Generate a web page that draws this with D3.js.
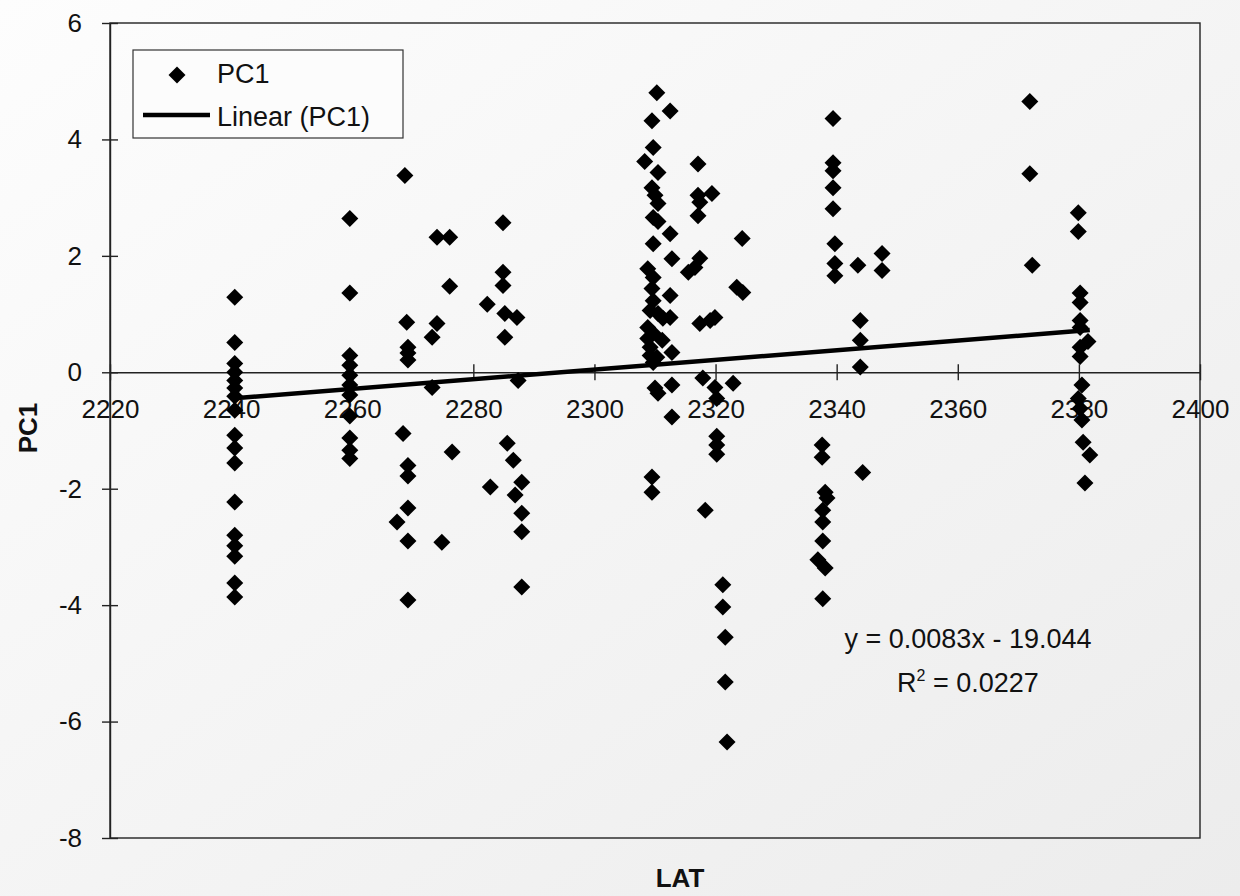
<!DOCTYPE html>
<html>
<head>
<meta charset="utf-8">
<title>PC1 vs LAT</title>
<script src="https://cdnjs.cloudflare.com/ajax/libs/d3/7.8.5/d3.min.js"></script>
<style>
    html, body { margin: 0; padding: 0; background: #f6f6f6; }
    svg { display: block; font-family: Arial, "Liberation Sans", sans-serif; }
</style>
</head>
<body>
<div class="content"></div>
<script>
// one line per LAT column, lat[i] goes with pc1[i]
var lat = [
    2240.6, 2240.6, 2240.6, 2240.6, 2240.6, 2240.6, 2240.6, 2240.6, 2240.6, 2240.6, 2240.6, 2240.6, 2240.6, 2240.6, 2240.6, 2240.6, 2240.6,
    2259.6, 2259.6, 2259.6, 2259.6, 2259.6, 2259.6, 2259.6, 2259.6, 2259.6, 2259.6, 2259.6,
    2268.7, 2269.0, 2269.2, 2269.2, 2269.2, 2268.4, 2269.2, 2269.2, 2269.2, 2267.4, 2269.2, 2269.2,
    2274.0, 2276.1, 2276.1, 2274.0, 2273.2, 2273.2, 2276.5, 2274.8,
    2284.9, 2284.9, 2284.9, 2282.3, 2285.2, 2287.2, 2285.2, 2287.4, 2285.6, 2286.6, 2288.0, 2282.8, 2286.9, 2288.0, 2288.0, 2288.0,
    2310.3, 2312.5, 2309.5, 2309.7, 2308.3, 2310.5, 2309.5, 2310.0, 2310.5, 2309.7, 2310.5, 2312.5, 2309.7, 2312.8, 2308.8, 2309.7, 2309.5, 2312.5, 2309.7,
    2309.2, 2310.5, 2312.5, 2311.3, 2308.8, 2309.7, 2308.8, 2311.2, 2309.2, 2312.8, 2309.2, 2310.3, 2309.7, 2310.0, 2310.5, 2312.8, 2312.8, 2309.5, 2309.5,
    2317.1, 2317.1, 2317.4, 2319.4, 2317.1, 2317.4, 2316.6, 2315.5, 2317.4, 2319.1, 2319.9, 2317.9, 2319.9, 2320.2, 2320.2, 2320.2, 2320.2, 2318.3,
    2321.2, 2321.2, 2321.6, 2321.6, 2321.9,
    2324.4, 2323.5, 2324.5, 2322.9,
    2339.4, 2339.4, 2339.4, 2339.4, 2339.4, 2339.7, 2339.7, 2339.7, 2337.6, 2337.6, 2338.1, 2338.4, 2337.7, 2337.7, 2337.7, 2336.9, 2338.1, 2337.7,
    2343.5, 2343.9, 2343.9, 2343.9, 2344.3,
    2347.5, 2347.5,
    2371.9, 2371.9, 2372.3,
    2379.9, 2379.9, 2380.2, 2380.2, 2380.2, 2380.2, 2381.5, 2380.2, 2380.2, 2380.5, 2379.9, 2380.2, 2380.5, 2380.7, 2381.8, 2381.0
];
var pc1 = [
    1.29, 0.51, 0.15, 0.00, -0.14, -0.27, -0.41, -0.65, -1.08, -1.30, -1.56, -2.23, -2.80, -2.98, -3.16, -3.62, -3.86,
    2.64, 1.36, 0.29, 0.12, -0.05, -0.22, -0.39, -0.75, -1.13, -1.34, -1.48,
    3.38, 0.86, 0.43, 0.33, 0.21, -1.05, -1.60, -1.78, -2.33, -2.57, -2.90, -3.91,
    2.32, 2.32, 1.48, 0.84, 0.60, -0.26, -1.37, -2.92,
    2.57, 1.72, 1.49, 1.17, 1.01, 0.94, 0.60, -0.14, -1.22, -1.51, -1.89, -1.97, -2.11, -2.42, -2.74, -3.69,
    4.80, 4.49, 4.32, 3.86, 3.62, 3.43, 3.17, 3.04, 2.90, 2.66, 2.59, 2.38, 2.21, 1.95, 1.78, 1.63, 1.44, 1.32, 1.23,
    1.06, 1.01, 0.94, 0.93, 0.77, 0.67, 0.58, 0.55, 0.43, 0.34, 0.29, 0.26, 0.17, -0.27, -0.36, -0.22, -0.77, -1.80, -2.06,
    3.58, 3.04, 2.92, 3.07, 2.69, 1.96, 1.80, 1.72, 0.84, 0.89, 0.94, -0.10, -0.26, -0.45, -1.10, -1.25, -1.41, -2.37,
    -3.65, -4.03, -4.55, -5.32, -6.35,
    2.30, 1.46, 1.37, -0.19,
    4.36, 3.60, 3.46, 3.17, 2.81, 2.21, 1.87, 1.66, -1.25, -1.46, -2.06, -2.16, -2.37, -2.57, -2.90, -3.22, -3.36, -3.89,
    1.84, 0.89, 0.55, 0.09, -1.72,
    2.04, 1.75,
    4.65, 3.41, 1.84,
    2.74, 2.42, 1.36, 1.20, 0.89, 0.77, 0.53, 0.43, 0.27, -0.22, -0.45, -0.62, -0.82, -1.20, -1.42, -1.90
];
var xTicks = [2220, 2240, 2260, 2280, 2300, 2320, 2340, 2360, 2380, 2400];
var yTicks = [-8, -6, -4, -2, 0, 2, 4, 6];
var trendSlope = 0.0083, trendIntercept = -19.044, rSquared = 0.0227;
var legendLabels = ['PC1', 'Linear (PC1)'];

(function (window) {
    'use strict';
    var chartOptions = {
            width: 1240,
            height: 896,
            plot: {left: 110, right: 1200, top: 23, bottom: 838},
            ink: '#111',
            tickFont: '26px',
            markerSize: 8.5
        },
        svg, x, y, points, trendX;

    function diamond(s) {
        return 'M0,' + (-s) + 'L' + s + ',0L0,' + s + 'L' + (-s) + ',0Z';
    }

    function addText(element, px, py, text, fontSize, anchor) {
        return element.append('text')
            .text(text)
            .attr('x', px)
            .attr('y', py)
            .attr('font-size', fontSize || chartOptions.tickFont)
            .attr('fill', chartOptions.ink)
            .attr('text-anchor', anchor || 'middle');
    }

    svg = d3.select('.content').append('svg')
        .attr('width', chartOptions.width)
        .attr('height', chartOptions.height);

    // scanned paper look: faint grey toward the bottom right
    var grad = svg.append('defs').append('linearGradient')
        .attr('id', 'paper').attr('x1', '0').attr('y1', '0').attr('x2', '1').attr('y2', '1');
    grad.append('stop').attr('offset', '0').attr('stop-color', '#fdfdfd');
    grad.append('stop').attr('offset', '1').attr('stop-color', '#ececec');
    svg.append('rect')
        .attr('width', chartOptions.width)
        .attr('height', chartOptions.height)
        .attr('fill', 'url(#paper)');

    x = d3.scaleLinear().domain([2220, 2400]).range([chartOptions.plot.left, chartOptions.plot.right]);
    y = d3.scaleLinear().domain([-8, 6]).range([chartOptions.plot.bottom, chartOptions.plot.top]);

    // plot frame
    svg.append('rect')
        .attr('x', x(2220))
        .attr('y', y(6))
        .attr('width', x(2400) - x(2220))
        .attr('height', y(-8) - y(6))
        .attr('fill', 'none')
        .attr('stroke', '#222')
        .attr('stroke-width', 1.4);

    // y axis with cross ticks
    var yAxis = svg.append('g')
        .attr('transform', 'translate(' + x(2220) + ',0)')
        .call(d3.axisLeft(y).tickValues(yTicks).tickFormat(function (d) { return String(d); })
            .tickSizeInner(8).tickSizeOuter(0).tickPadding(20));
    yAxis.selectAll('.tick').append('line').attr('x2', 8).attr('stroke', '#222');
    yAxis.selectAll('line, path').attr('stroke', '#222').attr('stroke-width', 1.4);
    yAxis.selectAll('text').attr('font-size', chartOptions.tickFont).attr('fill', chartOptions.ink)
        .attr('font-family', 'Arial, "Liberation Sans", sans-serif');

    // x axis crosses at PC1 = 0
    var xAxis = svg.append('g')
        .attr('transform', 'translate(0,' + y(0) + ')')
        .call(d3.axisBottom(x).tickValues(xTicks).tickFormat(function (d) { return String(d); })
            .tickSizeInner(8).tickSizeOuter(0).tickPadding(19));
    xAxis.selectAll('.tick').append('line').attr('y2', -8).attr('stroke', '#222');
    xAxis.selectAll('line, path').attr('stroke', '#222').attr('stroke-width', 1.4);
    xAxis.selectAll('text').attr('font-size', chartOptions.tickFont).attr('fill', chartOptions.ink)
        .attr('font-family', 'Arial, "Liberation Sans", sans-serif');

    // data points
    points = lat.map(function (d, i) { return {lat: d, pc1: pc1[i]}; });
    svg.append('g').selectAll('path.pt')
        .data(points)
        .enter().append('path')
        .attr('class', 'pt')
        .attr('d', diamond(chartOptions.markerSize))
        .attr('transform', function (d) { return 'translate(' + [x(d.lat), y(d.pc1)] + ')'; })
        .attr('fill', '#000');

    // linear trend over the data's LAT range
    trendX = d3.extent(lat);
    svg.append('path')
        .datum(trendX)
        .attr('d', d3.line()
            .x(function (d) { return x(d); })
            .y(function (d) { return y(trendSlope * d + trendIntercept); }))
        .attr('fill', 'none')
        .attr('stroke', '#000')
        .attr('stroke-width', 4.5);

    // equation + R squared
    addText(svg, 968, 648, 'y = ' + trendSlope + 'x - ' + Math.abs(trendIntercept), '27px');
    var r2 = addText(svg, 968, 692, 'R', '27px');
    r2.append('tspan').attr('dy', -11).attr('font-size', '16px').text('2');
    r2.append('tspan').attr('dy', 11).text(' = ' + rSquared);

    // axis titles
    addText(svg, 680, 887, 'LAT', '26px').attr('font-weight', 'bold');
    addText(svg, 0, 0, 'PC1', '26px')
        .attr('font-weight', 'bold')
        .attr('transform', 'translate(37,428) rotate(-90)');

    // legend
    var legend = svg.append('g');
    legend.append('rect')
        .attr('x', 133).attr('y', 50)
        .attr('width', 270).attr('height', 88)
        .attr('fill', '#fcfcfc')
        .attr('stroke', '#333')
        .attr('stroke-width', 1.2);
    legend.append('path')
        .attr('d', diamond(chartOptions.markerSize))
        .attr('transform', 'translate(177,75)')
        .attr('fill', '#000');
    legend.append('line')
        .attr('x1', 143).attr('x2', 210)
        .attr('y1', 115).attr('y2', 115)
        .attr('stroke', '#000')
        .attr('stroke-width', 4.5);
    addText(legend, 217, 83, legendLabels[0], '27px', 'start');
    addText(legend, 217, 126, legendLabels[1], '27px', 'start');
}(window));
</script>
</body>
</html>
